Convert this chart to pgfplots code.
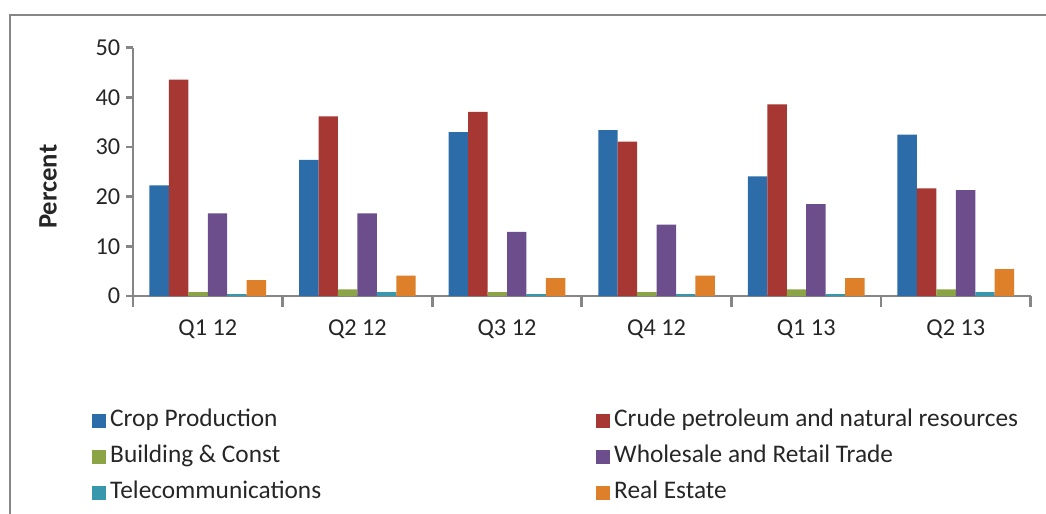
\documentclass[border=0pt]{standalone}
\usepackage{fontspec}
\setmainfont{Carlito}
\usepackage{pgfplots}
\usepackage{pgfplotstable}
\pgfplotsset{compat=1.18}
\definecolor{cb}{HTML}{2C6DA9}
\definecolor{cr}{HTML}{A63733}
\definecolor{cg}{HTML}{8BA445}
\definecolor{cp}{HTML}{6B4E8B}
\definecolor{ct}{HTML}{3797AD}
\definecolor{co}{HTML}{DD8029}
\definecolor{axgray}{HTML}{868686}
\pgfplotstableread{
x crop crude build whole tele real
0 22.3 43.6 0.8  16.65 0.4 3.2
1 27.4 36.2 1.35 16.65 0.8 4.1
2 33.0 37.1 0.8  12.9  0.4 3.6
3 33.4 31.1 0.8  14.4  0.4 4.1
4 24.1 38.6 1.35 18.5  0.4 3.6
5 32.5 21.7 1.35 21.3  0.8 5.4
}\datatable
\newcommand{\fs}{\fontsize{18.2}{21}\selectfont}
\newcommand{\fl}{\fontsize{19}{22}\selectfont}
\newcommand{\fy}{\fontsize{20}{23}\selectfont}
\begin{document}
\begin{tikzpicture}
\useasboundingbox (0,0) rectangle (784.5pt,385.5pt);
\draw[axgray, line width=1.5pt] (7.5pt,0pt) -- (7.5pt,374.25pt) -- (790pt,374.25pt);
\begin{axis}[
  at={(99.75pt,163.5pt)}, anchor=south west,
  scale only axis, width=673.2pt, height=186.2pt,
  xmin=-0.5, xmax=5.5, ymin=0, ymax=50,
  ybar=0pt, bar width=0.13,
  axis x line*=bottom, axis y line*=left,
  every outer x axis line/.append style={-},
  every outer y axis line/.append style={-},
  axis line style={draw=axgray, line width=2pt},
  tick style={axgray, line width=2pt},
  tick align=outside,
  xtick={0,...,5},
  xticklabels={Q1 12,Q2 12,Q3 12,Q4 12,Q1 13,Q2 13},
  major x tick style={draw=none},
  minor xtick={-0.5,0.5,...,5.5},
  minor tick length=8pt, major tick length=5pt,
  ytick={0,10,...,50},
  /pgf/number format/assume math mode=true,
  tick label style={font=\fs, text=black!85},
  xticklabel style={yshift=-9.5pt},
  yticklabel style={xshift=-1pt},
  ylabel={\bfseries Percent},
  ylabel style={font=\fy, text=black!85, at={(axis description cs:-0.0947,0.44)}, anchor=center},
  legend columns=2,
  legend cell align=left,
  legend style={draw=none, fill=none, font=\fl, text=black!85, inner sep=0pt,
    at={(axis description cs:-0.0457,-0.459)}, anchor=north west,
    row sep=11pt,
    nodes={inner xsep=3pt, inner ysep=0pt, text height=12pt, text depth=4pt}},
  legend image code/.code={\fill[#1] (0pt,-5.25pt) rectangle (10.5pt,5.25pt);},
]
\addplot[fill=cb, draw=none] table[x=x, y=crop] {\datatable};
\addlegendentry{\makebox[361.5pt][l]{Crop Production}}
\addplot[fill=cr, draw=none] table[x=x, y=crude] {\datatable};
\addlegendentry{Crude petroleum and natural resources}
\addplot[fill=cg, draw=none] table[x=x, y=build] {\datatable};
\addlegendentry{\makebox[361.5pt][l]{Building \& Const}}
\addplot[fill=cp, draw=none] table[x=x, y=whole] {\datatable};
\addlegendentry{Wholesale and Retail Trade}
\addplot[fill=ct, draw=none] table[x=x, y=tele] {\datatable};
\addlegendentry{\makebox[361.5pt][l]{Telecommunications}}
\addplot[fill=co, draw=none] table[x=x, y=real] {\datatable};
\addlegendentry{Real Estate}
\end{axis}
\end{tikzpicture}
\end{document}
